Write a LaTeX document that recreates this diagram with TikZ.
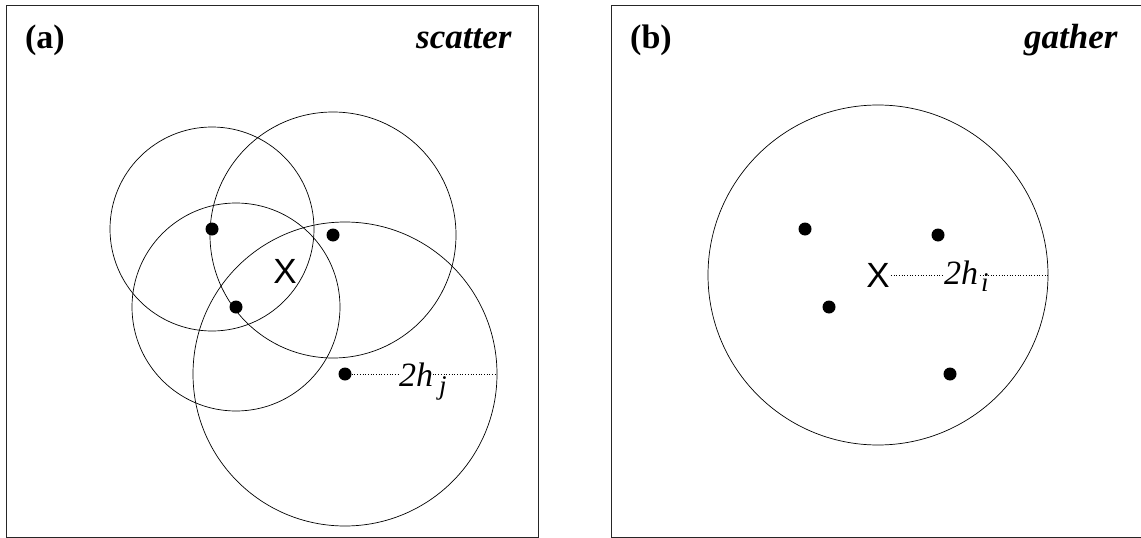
\documentclass[tikz,border=0pt]{standalone}
\usepackage{fontspec}
\setmainfont{Liberation Serif}
\newfontfamily\xsans{Liberation Sans}
\begin{document}
\begin{tikzpicture}[x=1pt,y=-1pt,
  panel/.style={draw=black!85,line width=1pt},
  ring/.style={draw=black,line width=0.7pt},
  pt/.style={circle,fill=black,inner sep=0pt,minimum size=13pt},
  tag/.style={font=\fontsize{34}{34}\selectfont\bfseries,anchor=base},
  mode/.style={font=\fontsize{35}{35}\selectfont\bfseries\itshape,anchor=base east},
  xmark/.style={font=\fontsize{35}{35}\selectfont\xsans,inner sep=1pt},
  radlbl/.style={font=\fontsize{34}{34}\selectfont\itshape,fill=white,inner sep=0pt,anchor=base west},
  sublbl/.style={font=\fontsize{27}{27}\selectfont\itshape,inner sep=0pt,anchor=base west},
  rad/.style={dotted,line width=0.7pt}]
\useasboundingbox (0,0) rectangle (1141,538);
% panels
\draw[panel] (6.5,5.5) rectangle (538.5,537);
\draw[panel] (611.5,5.5) rectangle (1145,537);
\node[tag] (ta) at (45,48) {(a)};
\node[mode] (ma) at (515,48) {scatter};
\node[tag] (tb) at (651,48) {(b)};
\node[mode] (mb) at (1121,48) {gather};
% panel (a)
\node[pt] (d1) at (212,229) {};
\node[pt] (d2) at (333,235) {};
\node[pt] (d3) at (236,307) {};
\node[pt] (d4) at (345,374) {};
\draw[ring] (d1.center) circle[radius=102];
\draw[ring] (d2.center) circle[radius=123];
\draw[ring] (d3.center) circle[radius=104];
\draw[ring] (d4.center) circle[radius=152];
\node[xmark] (xa) at (285,271) {X};
\coordinate (e4) at (497,374);
\draw[rad] (d4) -- (e4);
\node[radlbl] (la) at (399,386) {2h};
\node[sublbl] (sa) at (439,394) {j};
% panel (b)
\node[pt] (b1) at (805,229) {};
\node[pt] (b2) at (938,235) {};
\node[pt] (b3) at (829,307) {};
\node[pt] (b4) at (950,374) {};
\node[xmark] (xb) at (878,275) {X};
\draw[ring] (xb.center) circle[radius=170];
\coordinate (eb) at (1048,275);
\draw[rad] (xb.east) -- (eb);
\node[radlbl] (lb) at (944,284) {2h};
\node[sublbl] (sb) at (981,291) {i};
\end{tikzpicture}
\end{document}
